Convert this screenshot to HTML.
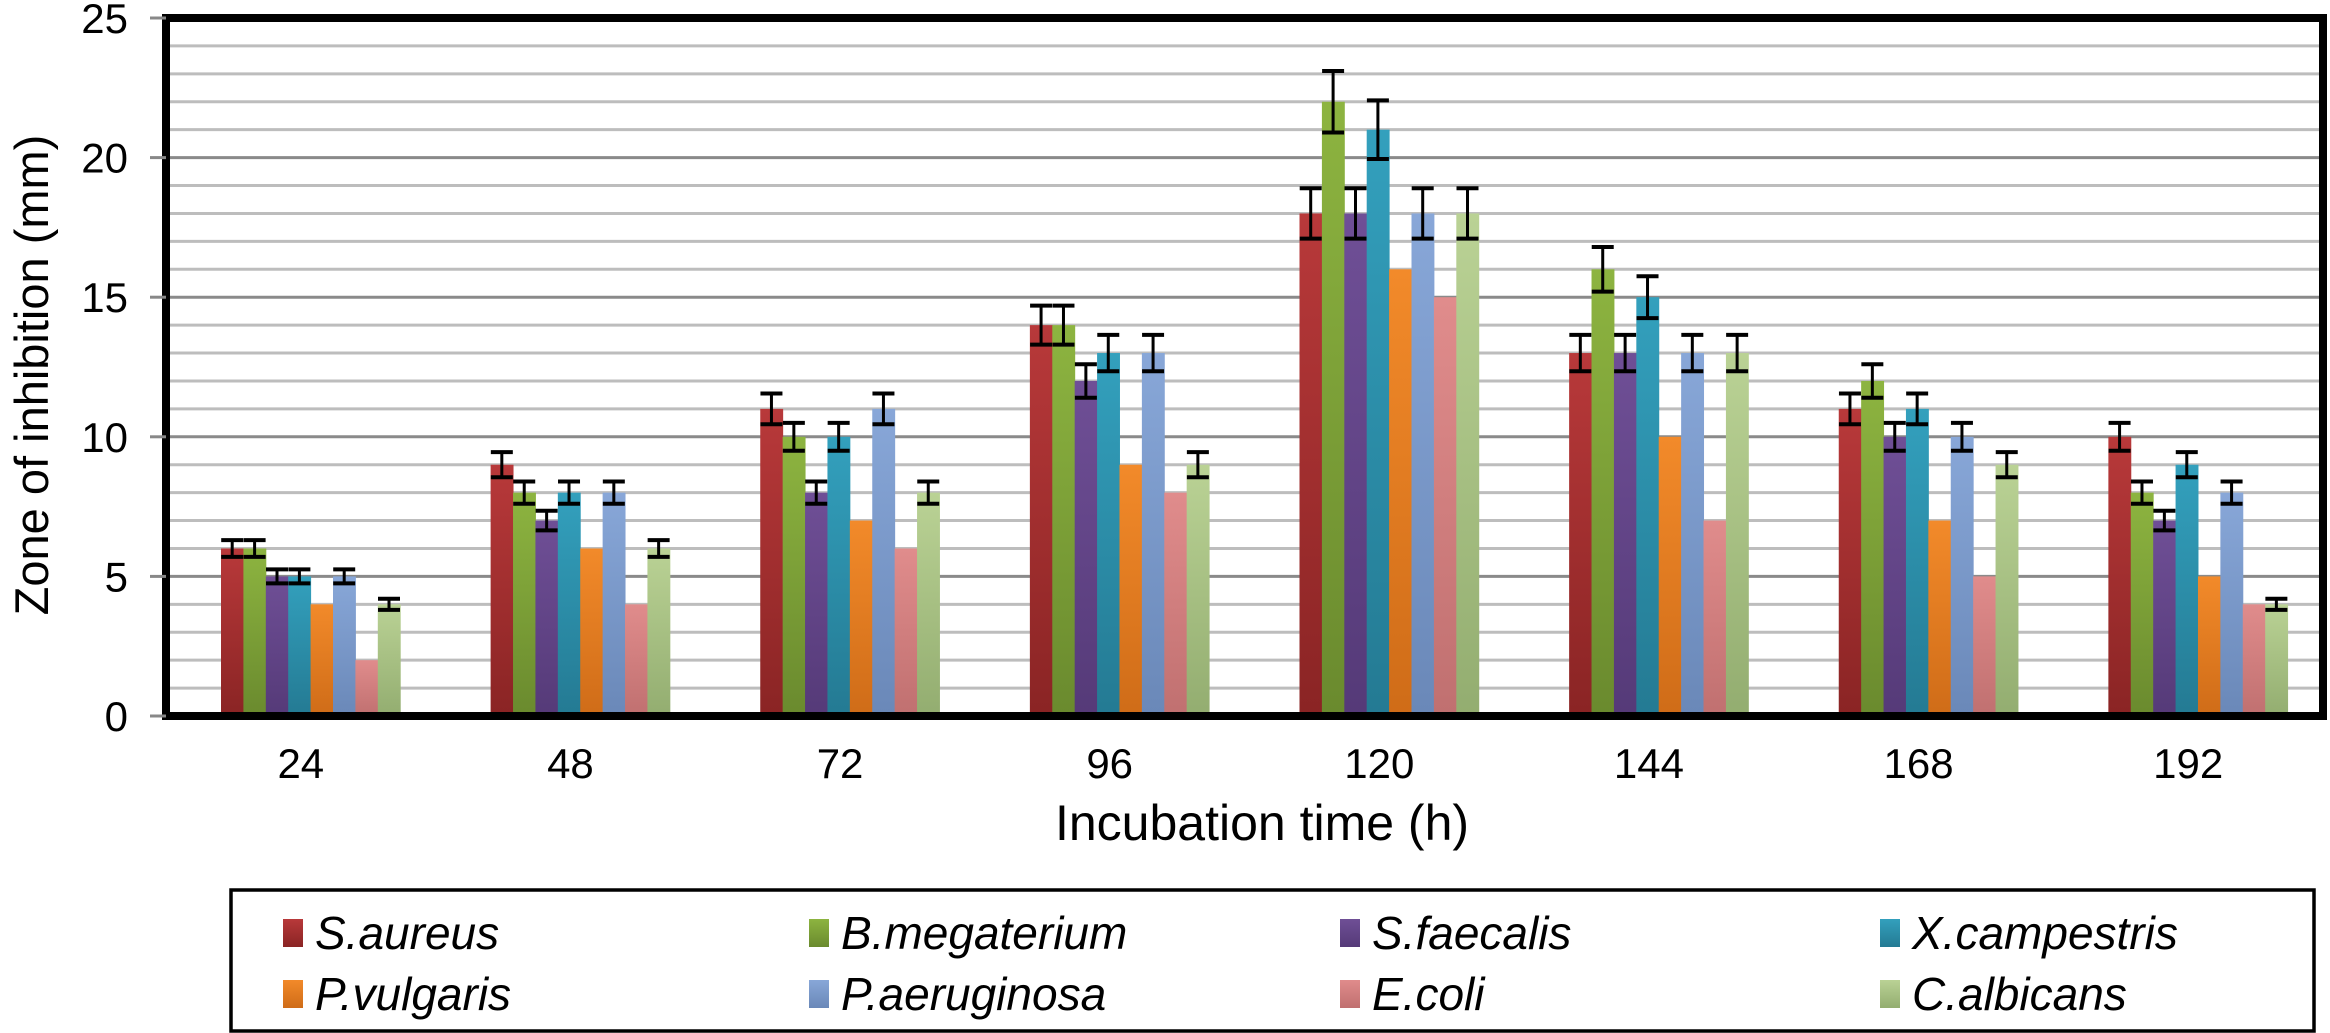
<!DOCTYPE html>
<html><head><meta charset="utf-8"><style>
html,body{margin:0;padding:0;background:#fff;}
svg{display:block;font-family:"Liberation Sans",Arial,sans-serif;}
</style></head><body>
<svg id="chart" width="2330" height="1033" viewBox="0 0 2330 1033" xmlns="http://www.w3.org/2000/svg">
<defs id="defs"></defs>
<g id="grid"></g>
<g id="bars"></g>
<g id="errs"></g>
<rect x="166" y="18" width="2157" height="698" fill="none" stroke="#000" stroke-width="8"/>
<g id="yticks"></g>
<g id="xticks"></g>
<text transform="translate(48,375) rotate(-90)" text-anchor="middle" font-size="47">Zone of inhibition (mm)</text>
<text x="1262" y="840" text-anchor="middle" font-size="50">Incubation time (h)</text>
<rect x="231" y="890" width="2083" height="141" fill="#fff" stroke="#000" stroke-width="3.5"/>
<g id="legend"></g>
</svg>
<script>
const categories = ["24","48","72","96","120","144","168","192"];
const seriesNames = ["S.aureus","B.megaterium","S.faecalis","X.campestris","P.vulgaris","P.aeruginosa","E.coli","C.albicans"];
const sAureus = [6,9,11,14,18,13,11,10];
const bMegaterium = [6,8,10,14,22,16,12,8];
const sFaecalis = [5,7,8,12,18,13,10,7];
const xCampestris = [5,8,10,13,21,15,11,9];
const pVulgaris = [4,6,7,9,16,10,7,5];
const pAeruginosa = [5,8,11,13,18,13,10,8];
const eColi = [2,4,6,8,15,7,5,4];
const cAlbicans = [4,6,8,9,18,13,9,4];
const errFraction = [0.05,0.05,0.05,0.05,0,0.05,0,0.05];
const yTicks = [0,5,10,15,20,25];
const series = [sAureus,bMegaterium,sFaecalis,xCampestris,pVulgaris,pAeruginosa,eColi,cAlbicans];
const colors = [["#b8393a","#8a2424"],["#8db440","#6a8a2e"],["#6f4f96","#553a78"],["#33a0bd","#247a93"],["#f28a2a","#cf6c18"],["#88a7d8","#6a88b8"],["#e08c8c","#c07070"],["#bad295","#93ad70"]];
const NS="http://www.w3.org/2000/svg";
const X0=166,X1=2323,Y0=716,Y1=18,YMAX=25;
const catW=(X1-X0)/categories.length, barW=22.4, barOff=55;
function y(v){return Y0-(v/YMAX)*(Y0-Y1);}
function xBar(c,s){return X0+c*catW+barOff+s*barW;}
function mk(tag,attrs,parent){const e=document.createElementNS(NS,tag);for(const k in attrs)e.setAttribute(k,attrs[k]);parent.appendChild(e);return e;}
const defs=document.getElementById('defs');
colors.forEach((c,i)=>{const g=mk('linearGradient',{id:'g'+i,x1:0,y1:0,x2:0,y2:1},defs);mk('stop',{offset:'0','stop-color':c[0]},g);mk('stop',{offset:'1','stop-color':c[1]},g);});
const grid=document.getElementById('grid');
for(let v=1;v<YMAX;v++){const major=v%5===0;
const l=mk('line',{x1:X0,x2:X1,y1:y(v),y2:y(v),stroke:major?'#8a8a8a':'#bdbdbd','stroke-width':3},grid);

}
const yt=document.getElementById('yticks');
yTicks.forEach(v=>{const t=mk('line',{x1:150,x2:166,y1:y(v),y2:y(v),stroke:'#888','stroke-width':3},yt);


const tx=mk('text',{x:128,y:y(v)+15,'text-anchor':'end','font-size':42},yt);tx.textContent=v;

});
const xt=document.getElementById('xticks');
categories.forEach((c,i)=>{const tx=mk('text',{x:X0+i*catW+catW/2,y:778,'text-anchor':'middle','font-size':42},xt);tx.textContent=c;

});
const bars=document.getElementById('bars'),errs=document.getElementById('errs');
series.forEach((vals,s)=>{vals.forEach((v,c)=>{const x=xBar(c,s);
const r=mk('rect',{x:x,y:y(v),width:barW+0.5,height:Y0-y(v),fill:'url(#g'+s+')'},bars);


const e=v*errFraction[s];
if(e>0){const cx=x+barW/2,hi=y(v+e),lo=y(v-e);
const g=mk('g',{stroke:'#000'},errs);


mk('line',{x1:cx,x2:cx,y1:hi,y2:lo,'stroke-width':3},g);
mk('line',{x1:cx-11,x2:cx+11,y1:hi,y2:hi,'stroke-width':4},g);
mk('line',{x1:cx-11,x2:cx+11,y1:lo,y2:lo,'stroke-width':4},g);}
});});
const lg=document.getElementById('legend');
const colX=[283,809,1340,1880],rowY=[933,994];
seriesNames.forEach((n,i)=>{const cx=colX[i%4],cy=rowY[Math.floor(i/4)];
const g=mk('g',{},lg);


mk('rect',{x:cx,y:cy-14,width:20,height:28,fill:'url(#g'+i+')'},g);
const t=mk('text',{x:cx+32,y:cy+16,'font-size':46,'font-style':'italic'},g);t.textContent=n;});
</script>
</body></html>
